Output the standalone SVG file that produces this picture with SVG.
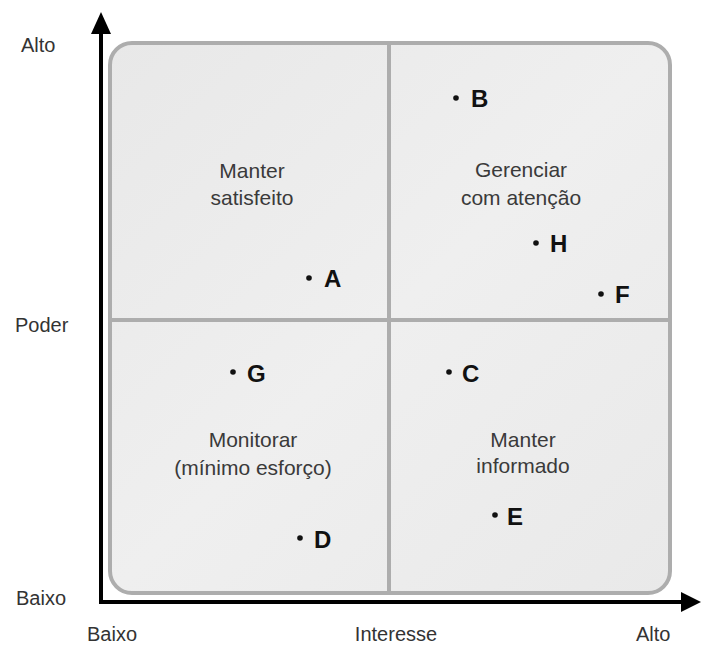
<svg xmlns="http://www.w3.org/2000/svg" width="701" height="648" viewBox="0 0 701 648">
<defs>
<style>
.ax{font-family:"Liberation Sans",Arial,sans-serif;font-size:20px;fill:#333}
.q{font-family:"Liberation Sans",Arial,sans-serif;font-size:21px;fill:#3a3a3a;text-anchor:middle}
.pt{font-family:"Liberation Sans",Arial,sans-serif;font-size:24px;font-weight:bold;fill:#111}
.dot{fill:#111}
.grid{stroke:#adadad;stroke-width:4;fill:none}
.axis{stroke:#000;stroke-width:4;fill:none}
</style>
<linearGradient id="bg" x1="0" y1="0" x2="1" y2="1">
<stop offset="0" stop-color="#e8e8e8"/>
<stop offset="0.5" stop-color="#efefef"/>
<stop offset="1" stop-color="#e9e9e9"/>
</linearGradient>
</defs>
<rect width="701" height="648" fill="#fff"/>
<g id="matrix">
<rect x="110" y="43" width="560" height="550" rx="22" fill="url(#bg)" stroke="#adadad" stroke-width="4"/>
<line x1="389" y1="43" x2="389" y2="593" class="grid"/>
<line x1="110" y1="320" x2="670" y2="320" class="grid"/>
</g>
<g id="connectors">
<line x1="101" y1="604" x2="101" y2="30" class="axis"/>
<polygon points="101,12 91,34 111,34" fill="#000"/>
<line x1="99" y1="602" x2="684" y2="602" class="axis"/>
<polygon points="701,602 681,592 681,612" fill="#000"/>
</g>
<g id="axis-labels">
<text class="ax" x="21" y="52">Alto</text>
<text class="ax" x="15" y="332">Poder</text>
<text class="ax" x="16" y="605">Baixo</text>
<text class="ax" x="87" y="641">Baixo</text>
<text class="ax" x="396" y="641" text-anchor="middle">Interesse</text>
<text class="ax" x="636" y="641">Alto</text>
</g>
<g id="q1">
<text class="q" x="252" y="178">Manter</text>
<text class="q" x="252" y="205">satisfeito</text>
</g>
<g id="q2">
<text class="q" x="521" y="177">Gerenciar</text>
<text class="q" x="521" y="205">com atenção</text>
</g>
<g id="q3">
<text class="q" x="253" y="447">Monitorar</text>
<text class="q" x="253" y="475">(mínimo esforço)</text>
</g>
<g id="q4">
<text class="q" x="523" y="447">Manter</text>
<text class="q" x="523" y="473">informado</text>
</g>
<g id="A"><circle class="dot" cx="309" cy="278" r="2.8"/><text class="pt" x="324" y="287">A</text></g>
<g id="B"><circle class="dot" cx="456" cy="98" r="2.8"/><text class="pt" x="471" y="107">B</text></g>
<g id="H"><circle class="dot" cx="536" cy="243" r="2.8"/><text class="pt" x="550" y="252">H</text></g>
<g id="F"><circle class="dot" cx="601" cy="294" r="2.8"/><text class="pt" x="615" y="303">F</text></g>
<g id="G"><circle class="dot" cx="233" cy="372" r="2.8"/><text class="pt" x="247" y="382">G</text></g>
<g id="C"><circle class="dot" cx="449" cy="372" r="2.8"/><text class="pt" x="462" y="382">C</text></g>
<g id="E"><circle class="dot" cx="495" cy="515" r="2.8"/><text class="pt" x="507" y="525">E</text></g>
<g id="D"><circle class="dot" cx="300" cy="538" r="2.8"/><text class="pt" x="314" y="548">D</text></g>
</svg>
